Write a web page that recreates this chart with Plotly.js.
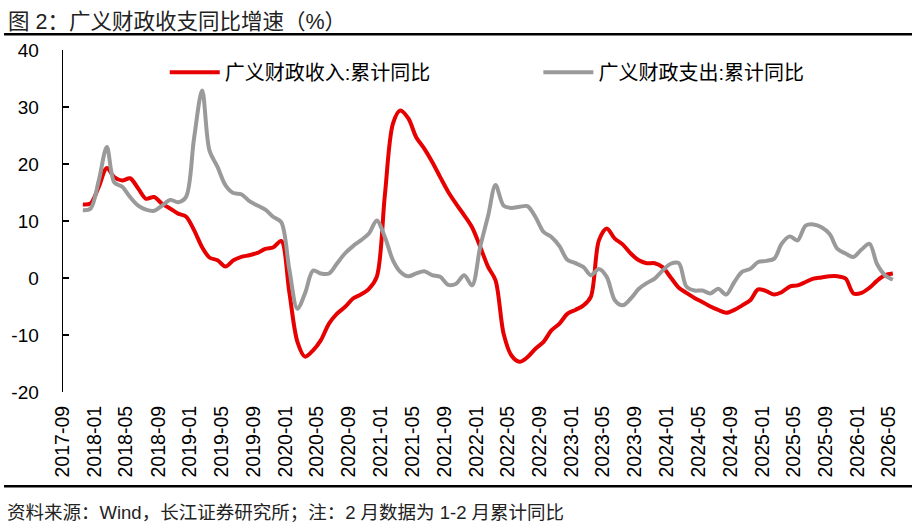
<!DOCTYPE html>
<html>
<head>
<meta charset="utf-8">
<script src="https://cdn.plot.ly/plotly-3.0.1.min.js"></script>
<style>
  html, body { margin: 0; padding: 0; background: #fff; }
  #chart { width: 920px; height: 532px; }
</style>
</head>
<body>
<div id="chart"></div>
<script>
// monthly observations, 2017-11 .. 2026-05
const months = [
  "2017-11", "2017-12",
  "2018-01", "2018-02", "2018-03", "2018-04", "2018-05", "2018-06", "2018-07", "2018-08", "2018-09", "2018-10", "2018-11", "2018-12",
  "2019-01", "2019-02", "2019-03", "2019-04", "2019-05", "2019-06", "2019-07", "2019-08", "2019-09", "2019-10", "2019-11", "2019-12",
  "2020-01", "2020-02", "2020-03", "2020-04", "2020-05", "2020-06", "2020-07", "2020-08", "2020-09", "2020-10", "2020-11", "2020-12",
  "2021-01", "2021-02", "2021-03", "2021-04", "2021-05", "2021-06", "2021-07", "2021-08", "2021-09", "2021-10", "2021-11", "2021-12",
  "2022-01", "2022-02", "2022-03", "2022-04", "2022-05", "2022-06", "2022-07", "2022-08", "2022-09", "2022-10", "2022-11", "2022-12",
  "2023-01", "2023-02", "2023-03", "2023-04", "2023-05", "2023-06", "2023-07", "2023-08", "2023-09", "2023-10", "2023-11", "2023-12",
  "2024-01", "2024-02", "2024-03", "2024-04", "2024-05", "2024-06", "2024-07", "2024-08", "2024-09", "2024-10", "2024-11", "2024-12",
  "2025-01", "2025-02", "2025-03", "2025-04", "2025-05", "2025-06", "2025-07", "2025-08", "2025-09", "2025-10", "2025-11", "2025-12",
  "2026-01", "2026-02", "2026-03", "2026-04", "2026-05"
];

const revenueYoY = [
  12.9, 13.1,
  16.0, 19.3, 17.7, 17.1, 17.5, 15.7, 13.9, 14.2, 13.0, 12.2, 11.3, 10.8,
  8.4, 5.4, 3.6, 3.1, 2.0, 3.1, 3.7, 4.0, 4.4, 5.1, 5.4, 6.5,
  -2.5, -11.2, -13.8, -12.7, -10.9, -8.0, -6.3, -5.1, -3.6, -2.9, -1.9, 0.2,
  14.5, 27.1, 29.4, 28.0, 24.7, 22.7, 20.4, 17.7, 15.1, 13.0, 11.0, 8.9,
  5.5, 1.9, -0.4, -9.8, -13.6, -14.7, -13.9, -12.4, -11.2, -9.2, -8.0, -6.3,
  -5.6, -4.8, -3.3, 6.6, 8.7, 6.9, 5.9, 4.3, 3.1, 2.6, 2.6, 1.9,
  0.1, -1.7, -2.6, -3.5, -4.2, -5.0, -5.6, -6.1, -5.6, -4.8, -3.9, -2.0,
  -2.3, -2.9, -2.5, -1.5, -1.3, -0.7, -0.1, 0.1, 0.3, 0.3, -0.1, -2.7,
  -2.6, -1.7, -0.5, 0.5, 0.8
];

const spendingYoY = [
  11.9, 12.2,
  17.1, 23.0, 16.8, 16.0, 14.2, 12.7, 12.0, 11.8, 12.7, 13.7, 13.3, 14.2,
  24.5, 32.9, 22.4, 19.5, 16.3, 14.9, 14.7, 13.5, 12.7, 12.0, 10.7, 9.8,
  1.5, -5.4, -2.7, 1.3, 0.8, 0.8, 2.5, 4.3, 5.6, 6.6, 7.8, 10.1,
  7.2, 3.1, 1.1, 0.3, 0.8, 1.2, 0.5, 0.2, -1.2, -1.0, 0.5, -1.3,
  5.4, 11.0, 16.3, 12.7, 12.3, 12.5, 12.6, 10.7, 8.1, 7.2, 5.6, 3.2,
  2.6, 1.9, 0.5, 1.6, 0.2, -3.9, -4.8, -3.6, -1.9, -0.9, -0.1, 1.3,
  2.5, 2.6, -1.5, -2.2, -2.2, -2.7, -1.9, -2.9, -0.7, 1.1, 1.6, 2.8,
  3.0, 3.4, 6.0, 7.3, 6.6, 9.2, 9.4, 8.9, 7.7, 5.1, 4.3, 3.7,
  5.0, 6.0, 2.5, 0.5, -0.3
];

const tickMonths = [
  "2017-09", "2018-01", "2018-05", "2018-09", "2019-01", "2019-05", "2019-09",
  "2020-01", "2020-05", "2020-09", "2021-01", "2021-05", "2021-09",
  "2022-01", "2022-05", "2022-09", "2023-01", "2023-05", "2023-09",
  "2024-01", "2024-05", "2024-09", "2025-01", "2025-05", "2025-09",
  "2026-01", "2026-05"
];

const yTicks = [-20, -10, 0, 10, 20, 30, 40];

// points sit in the middle of their month, like the source chart
const xMid = months.map(m => m + "-16");
const tickDates = tickMonths.map(m => m + "-01");
const xRange = ["2017-09-01", "2026-06-01"];

const FONT = "Liberation Sans, Arial, Noto Sans CJK SC, sans-serif";

const traces = [
  {
    x: xMid, y: revenueYoY, type: "scatter", mode: "lines",
    name: "广义财政收入:累计同比",
    line: { color: "#e60000", width: 4, shape: "spline", smoothing: 0.9 },
    legend: "legend"
  },
  {
    x: xMid, y: spendingYoY, type: "scatter", mode: "lines",
    name: "广义财政支出:累计同比",
    line: { color: "#9a9a9a", width: 4, shape: "spline", smoothing: 0.9 },
    legend: "legend2"
  }
];

const legendBase = {
  orientation: "h",
  yanchor: "middle",
  xanchor: "left",
  y: 0.935,
  bgcolor: "rgba(0,0,0,0)",
  itemwidth: 50,
  font: { family: FONT, size: 20, color: "#000" }
};

const layout = {
  width: 920,
  height: 532,
  margin: { l: 63, r: 23, t: 50, b: 140 },
  paper_bgcolor: "#fff",
  plot_bgcolor: "#fff",
  showlegend: true,
  legend: Object.assign({}, legendBase, { x: 0.122 }),
  legend2: Object.assign({}, legendBase, { x: 0.57 }),
  xaxis: {
    type: "date",
    range: xRange,
    tickvals: tickDates,
    ticktext: tickMonths,
    tickangle: -90,
    tickfont: { family: FONT, size: 19.5, color: "#000" },
    ticks: "",
    showline: false,
    showgrid: false,
    zeroline: false,
    ticklabelstandoff: 9
  },
  // axis line drawn through y = 0 with upward ticks
  xaxis2: {
    type: "date",
    overlaying: "x",
    anchor: "free",
    position: 1 / 3,
    range: xRange,
    tickvals: tickDates,
    showticklabels: false,
    ticks: "inside",
    ticklen: 6,
    tickwidth: 1.2,
    tickcolor: "#000",
    showline: true,
    linecolor: "#000",
    linewidth: 1.6,
    showgrid: false,
    zeroline: false
  },
  yaxis: {
    range: [-20, 40],
    tickvals: yTicks,
    ticktext: yTicks.map(String),
    ticks: "inside",
    ticklen: 6,
    tickwidth: 1.2,
    tickcolor: "#000",
    showline: true,
    linecolor: "#000",
    linewidth: 1.4,
    showgrid: false,
    zeroline: false,
    tickfont: { family: FONT, size: 19, color: "#000" },
    ticklabelstandoff: 19
  },
  shapes: [
    { type: "line", xref: "paper", yref: "paper", x0: -0.0707, x1: 1.018, y0: 1.046, y1: 1.046,
      line: { color: "#000", width: 2.5 } },
    { type: "line", xref: "paper", yref: "paper", x0: -0.0707, x1: 1.018, y0: -0.2757, y1: -0.2757,
      line: { color: "#000", width: 2.5 } }
  ],
  annotations: [
    { text: "图 2：广义财政收支同比增速（%）", xref: "paper", yref: "paper",
      x: -0.0683, y: 1.083, xanchor: "left", yanchor: "middle", showarrow: false,
      font: { family: FONT, size: 21.5, color: "#222" } },
    { text: "资料来源：Wind，长江证券研究所；注：2 月数据为 1-2 月累计同比", xref: "paper", yref: "paper",
      x: -0.0695, y: -0.352, xanchor: "left", yanchor: "middle", showarrow: false,
      font: { family: FONT, size: 18.5, color: "#222" } }
  ]
};

Plotly.newPlot("chart", traces, layout, { displayModeBar: false, staticPlot: true });
</script>
</body>
</html>
